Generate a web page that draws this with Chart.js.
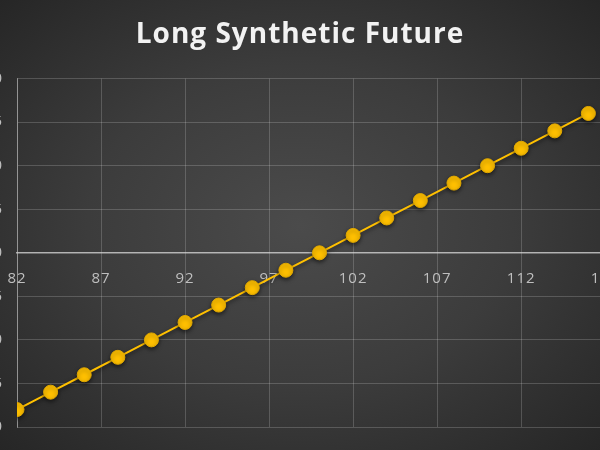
<!DOCTYPE html>
<html>
<head>
<meta charset="utf-8">
<script src="https://cdn.jsdelivr.net/npm/chart.js@4.4.1/dist/chart.umd.min.js"></script>
<style>
  html, body { margin: 0; padding: 0; width: 600px; height: 450px; overflow: hidden; }
  body { background: radial-gradient(ellipse at 50% 50%, #4b4b4b 0%, #3c3c3c 50%, #262626 100%); position: relative; }
  #wrap { position: absolute; left: -40px; top: 0; width: 680px; height: 450px; }
</style>
</head>
<body>
<div id="wrap"><canvas id="payoff"></canvas></div>
<script>
// strike prices and payoff of the long synthetic future
const strikes = [82, 84, 86, 88, 90, 92, 94, 96, 98, 100, 102, 104, 106, 108, 110, 112, 114, 116];
const payoff = [-18, -16, -14, -12, -10, -8, -6, -4, -2, 0, 2, 4, 6, 8, 10, 12, 14, 16];
const xTicks = [82, 87, 92, 97, 102, 107, 112, 117];
const yTicks = [-20, -15, -10, -5, 0, 5, 10, 15, 20];

const shadowPlugin = {
  id: 'shadow',
  beforeDraw: (chart) => {
    chart.ctx.letterSpacing = '1px';
  },
  beforeDatasetsDraw: (chart) => {
    const ctx = chart.ctx;
    ctx.save();
    ctx.shadowColor = 'rgba(0,0,0,0.55)';
    ctx.shadowBlur = 4;
    ctx.shadowOffsetY = 2;
  },
  afterDatasetsDraw: (chart) => {
    chart.ctx.restore();
  }
};

const ctx = document.getElementById('payoff').getContext('2d');
new Chart(ctx, {
  type: 'line',
  data: {
    datasets: [{
      label: 'Long Synthetic Future',
      data: strikes.map((s, i) => ({ x: s, y: payoff[i] })),
      borderColor: '#ffc000',
      borderWidth: 2,
      backgroundColor: '#ffc000',
      pointBackgroundColor: '#ffc000',
      pointBorderColor: '#e0a800',
      pointBorderWidth: 1,
      pointRadius: 7,
      tension: 0
    }]
  },
  plugins: [shadowPlugin],
  options: {
    responsive: true,
    maintainAspectRatio: false,
    animation: false,
    layout: { padding: { left: 18, right: 18, bottom: 23 } },
    plugins: {
      legend: { display: false },
      tooltip: { enabled: false },
      title: {
        display: true,
        text: 'Long Synthetic Future',
        color: '#f2f2f2',
        font: { family: 'Open Sans', size: 28, weight: 'bold' },
        padding: { top: 18, bottom: 27 }
      }
    },
    scales: {
      x: {
        type: 'linear',
        min: 82,
        max: 118,
        position: { y: 0 },
        afterFit: (s) => { s.height = 0; },
        afterBuildTicks: (s) => { s.ticks = xTicks.map((v) => ({ value: v })); },
        grid: { color: 'rgba(255,255,255,0.18)', drawTicks: false },
        border: { color: 'rgba(210,210,210,0.75)', width: 1.5 },
        ticks: {
          color: '#bfbfbf',
          padding: 17,
          maxRotation: 0,
          autoSkip: false,
          font: { family: 'Open Sans', size: 15 }
        }
      },
      y: {
        min: -20,
        max: 20,
        afterFit: (s) => { s.width = 39; },
        afterBuildTicks: (s) => { s.ticks = yTicks.map((v) => ({ value: v })); },
        grid: { color: 'rgba(255,255,255,0.18)', drawTicks: false },
        border: { color: 'rgba(200,200,200,0.55)', width: 1 },
        ticks: {
          color: '#bfbfbf',
          padding: 14,
          font: { family: 'Open Sans', size: 15 }
        }
      }
    }
  }
});
</script>
</body>
</html>
